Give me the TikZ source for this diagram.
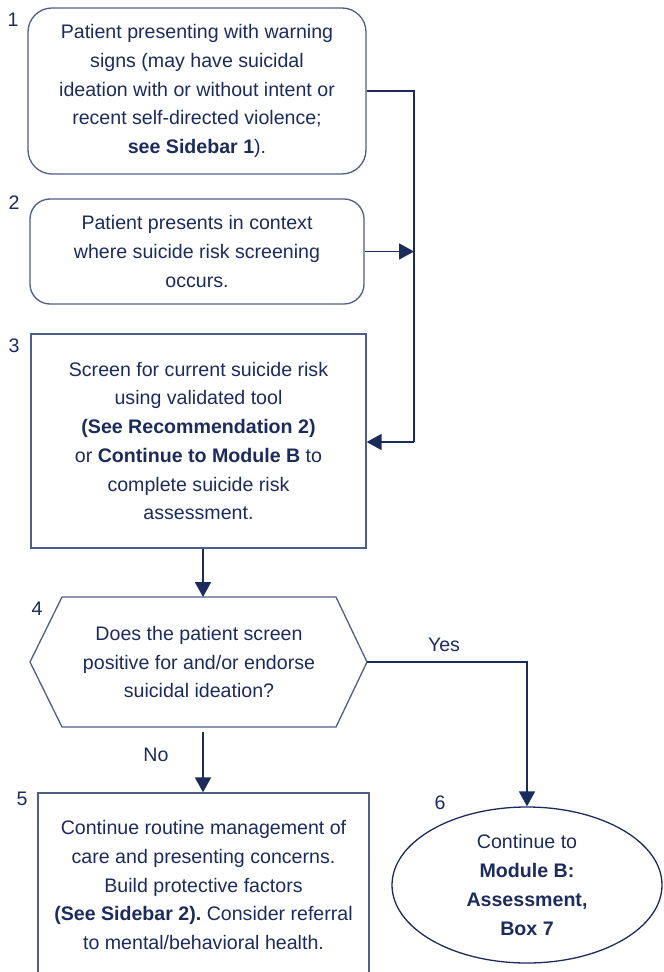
\documentclass[tikz,border=0pt]{standalone}
\usepackage{fontspec}
\setmainfont{Liberation Sans}
\usetikzlibrary{arrows.meta,shapes.geometric}
\frenchspacing

\begin{document}
\begin{tikzpicture}[x=0.5pt,y=-0.5pt]
  \definecolor{navy}{HTML}{1B2B5C}
  \definecolor{rim}{HTML}{4E5E88}
  \tikzset{
    txt/.style={text=navy,font=\fontsize{9.8}{14.35}\selectfont,align=center},
    stepbox/.style={txt,draw=rim,line width=0.65pt,inner sep=0pt},
    flow/.style={draw=navy,line width=0.9pt,-{Triangle[length=7.5pt,width=8pt]}},
    link/.style={draw=navy,line width=0.9pt}
  }
  \clip (0,0) rectangle (663,972);
  % boxes
  \node[stepbox,rounded corners=12pt,minimum width=169pt,minimum height=83pt] (b1) at (197,91)
    {Patient presenting with warning\\signs (may have suicidal\\ideation with or without intent or\\recent self-directed violence;\\\textbf{see Sidebar 1}).};
  \node[stepbox,rounded corners=10pt,minimum width=167pt,minimum height=52.5pt] (b2) at (197,251.5)
    {Patient presents in context\\where suicide risk screening\\occurs.};
  \node[stepbox,minimum width=167.5pt,minimum height=107pt] (b3) at (198.5,441)
    {Screen for current suicide risk\\using validated tool\\\textbf{(See Recommendation 2)}\\or \textbf{Continue to Module B} to\\complete suicide risk\\assessment.};
  % decision
  \coordinate (hL) at (30,662);
  \coordinate (hR) at (367,662);
  \coordinate (hT) at (203,597);
  \coordinate (hB) at (203,732);
  \draw[rim,line width=0.65pt] (62,597) -- (336,597) -- (hR) -- (336,727) -- (62,727) -- (hL) -- cycle;
  \node[txt] (b4) at (199,662)
    {Does the patient screen\\positive for and/or endorse\\suicidal ideation?};
  \node[stepbox,minimum width=165.5pt,minimum height=92pt] (b5) at (203.5,885)
    {Continue routine management of\\care and presenting concerns.\\Build protective factors\\\textbf{(See Sidebar 2).} Consider referral\\to mental/behavioral health.};
  \node[stepbox,ellipse,draw=navy,minimum width=135pt,minimum height=78pt] (b6) at (527,885)
    {Continue to\\\textbf{Module B:}\\\textbf{Assessment,}\\\textbf{Box 7}};
  % numbers
  \node[txt] (n1) at (13,20) {1};
  \node[txt] (n2) at (14,203) {2};
  \node[txt] (n3) at (14,346) {3};
  \node[txt] (n4) at (37,609) {4};
  \node[txt] (n5) at (22,799) {5};
  \node[txt] (n6) at (440,803) {6};
  % connectors
  \coordinate (railT) at (414,91);
  \coordinate (railB) at (414,442);
  \draw[link] (b1.east) -- (railT) -- (railB);
  \draw[flow] (railB) -- (b3.east |- railB);
  \draw[flow] (b2.east) -- (railT |- b2.east);
  \draw[flow] (b3.south -| hT) -- (hT);
  \draw[flow] (hR) -- (b6.north |- hR) -- (b6.north);
  \draw[flow] (hB) -- (b5.north -| hB);
  \node[txt] (yes) at (444,645) {Yes};
  \node[txt] (no) at (156,755) {No};
\end{tikzpicture}
\end{document}
